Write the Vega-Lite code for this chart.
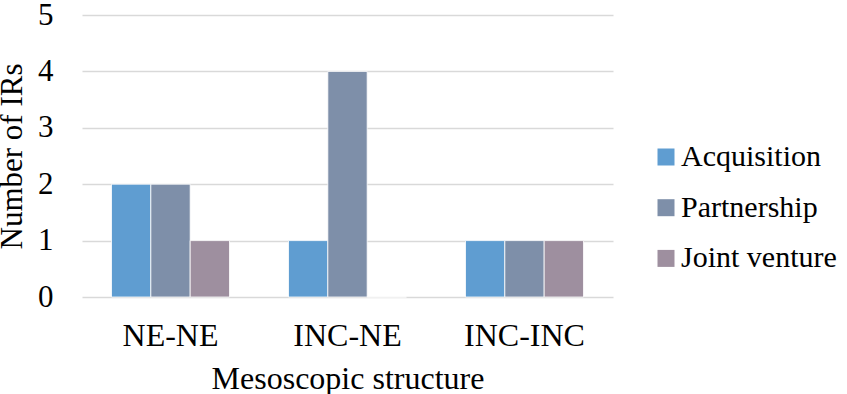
{
  "$schema": "https://vega.github.io/schema/vega-lite/v6.json",
  "autosize": "none",
  "width": 531,
  "height": 282,
  "padding": {"left": 82, "top": 15, "right": 234, "bottom": 97},
  "background": "white",
  "data": {
    "values": [
      {"structure": "NE-NE", "type": "Acquisition", "count": 2},
      {"structure": "NE-NE", "type": "Partnership", "count": 2},
      {"structure": "NE-NE", "type": "Joint venture", "count": 1},
      {"structure": "INC-NE", "type": "Acquisition", "count": 1},
      {"structure": "INC-NE", "type": "Partnership", "count": 4},
      {"structure": "INC-NE", "type": "Joint venture", "count": 0},
      {"structure": "INC-INC", "type": "Acquisition", "count": 1},
      {"structure": "INC-INC", "type": "Partnership", "count": 1},
      {"structure": "INC-INC", "type": "Joint venture", "count": 1}
    ]
  },
  "config": {
    "view": {"stroke": null},
    "font": "Liberation Serif"
  },
  "mark": {"type": "bar", "stroke": "white", "strokeWidth": 0.8},
  "encoding": {
    "x": {
      "field": "structure",
      "type": "nominal",
      "sort": ["NE-NE", "INC-NE", "INC-INC"],
      "scale": {"paddingInner": 0.3333, "paddingOuter": 0.1667},
      "axis": {
        "title": "Mesoscopic structure",
        "titleFont": "Liberation Serif",
        "titleFontSize": 32,
        "titleFontWeight": "normal",
        "titleColor": "black",
        "titlePadding": 12,
        "labelFont": "Liberation Serif",
        "labelFontSize": 32,
        "labelColor": "black",
        "labelAngle": 0,
        "labelPadding": 23,
        "ticks": false,
        "domain": false
      }
    },
    "xOffset": {
      "field": "type",
      "type": "nominal",
      "sort": ["Acquisition", "Partnership", "Joint venture"]
    },
    "y": {
      "field": "count",
      "type": "quantitative",
      "scale": {"domain": [0, 5]},
      "axis": {
        "title": "Number of IRs",
        "titleFont": "Liberation Serif",
        "titleFontSize": 31,
        "titleFontWeight": "normal",
        "titleColor": "black",
        "titlePadding": 9,
        "labelFont": "Liberation Serif",
        "labelFontSize": 31,
        "labelColor": "black",
        "labelPadding": 29,
        "values": [0, 1, 2, 3, 4, 5],
        "ticks": false,
        "domain": false,
        "grid": true,
        "gridColor": "#d9d9d9",
        "gridWidth": 1.5
      }
    },
    "color": {
      "field": "type",
      "type": "nominal",
      "sort": ["Acquisition", "Partnership", "Joint venture"],
      "scale": {
        "domain": ["Acquisition", "Partnership", "Joint venture"],
        "range": ["#5f9dd1", "#7e8fa9", "#9e8f9f"]
      },
      "legend": {
        "title": null,
        "orient": "none",
        "legendX": 569,
        "legendY": 127,
        "padding": 0,
        "symbolType": "square",
        "symbolSize": 289,
        "symbolStrokeWidth": 0,
        "labelFont": "Liberation Serif",
        "labelFontSize": 30,
        "labelColor": "black",
        "labelOffset": 0,
        "rowPadding": 20.7,
        "labelLimit": 300
      }
    }
  }
}
